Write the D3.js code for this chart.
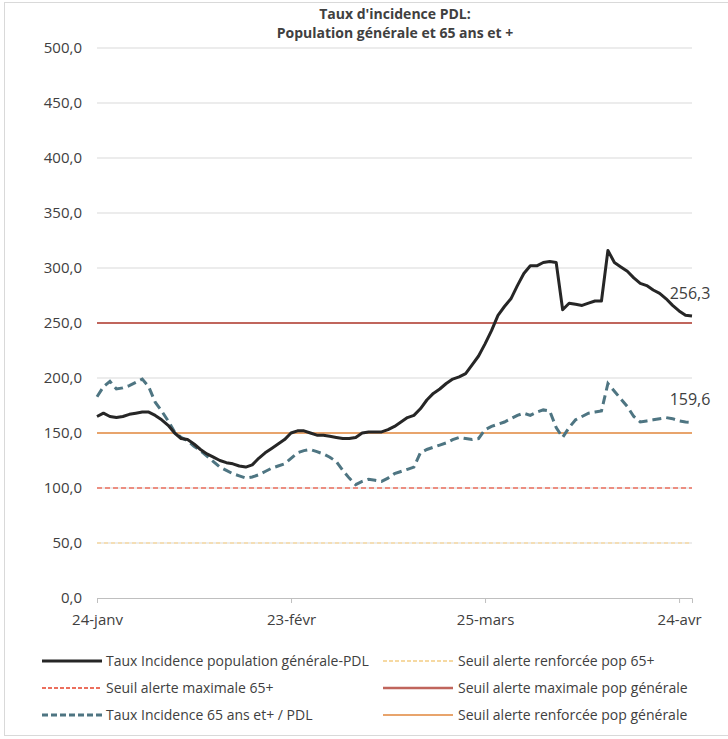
<!DOCTYPE html>
<html>
<head>
<meta charset="utf-8">
<script src="https://cdn.jsdelivr.net/npm/d3@7"></script>
<style>
  body { margin: 0; background: #fff; }
  text { font-family: "Open Sans", "Noto Sans", sans-serif; fill: #404040; }
</style>
</head>
<body>
<div id="chart"></div>
<script>
// daily values, starting 24 janvier 2021
var startDate = new Date(2021, 0, 24);

var popGenerale = [165, 168, 165, 164, 165, 167, 168, 169, 169, 166,
  162, 157, 150, 145, 144, 140, 135, 131, 128, 125,
  123, 122, 120, 119, 121, 127, 132, 136, 140, 144,
  150, 152, 152, 150, 148, 148, 147, 146, 145, 145,
  146, 150, 151, 151, 151, 153, 156, 160, 164, 166,
  172, 180, 186, 190, 195, 199, 201, 204, 212, 220,
  231, 243, 257, 265, 272, 284, 295, 302, 302, 305,
  306, 305, 262, 268, 267, 266, 268, 270, 270, 316,
  305, 301, 297, 291, 286, 284, 280, 277, 272, 266,
  261, 257, 256.3];

var pop65 = [183, 192, 197, 190, 191, 193, 196, 199, 192, 178,
  170, 161, 151, 146, 143, 138, 134, 129, 124, 119,
  116, 113, 111, 109, 110, 112, 115, 118, 120, 122,
  127, 132, 134, 135, 133, 131, 128, 124, 116, 109,
  103, 106, 108, 107, 106, 109, 113, 115, 117, 119,
  132, 135, 137, 139, 141, 144, 146, 145, 144, 145,
  153, 156, 158, 160, 163, 166, 168, 166, 169, 171,
  170, 155, 146, 155, 162, 165, 168, 169, 170, 195,
  188, 181, 174, 165, 160, 161, 162, 163, 164, 163,
  161, 160, 159.6];

var seuils = [
  {name: "Seuil alerte renforcée pop 65+", value: 50},
  {name: "Seuil alerte maximale 65+", value: 100},
  {name: "Seuil alerte maximale pop générale", value: 250},
  {name: "Seuil alerte renforcée pop générale", value: 150}
];

var yTicks = [0, 50, 100, 150, 200, 250, 300, 350, 400, 450, 500];
var xTickLabels = ["24-janv", "23-févr", "25-mars", "24-avr"];
var xTickDates = [new Date(2021, 0, 24), new Date(2021, 1, 23), new Date(2021, 2, 25), new Date(2021, 3, 24)];

var svgWidth = 728, svgHeight = 739;
var svg = d3.select("#chart").append("svg")
  .attr("width", svgWidth)
  .attr("height", svgHeight);

// light frame of the chart area
svg.append("rect")
  .attr("x", 4.5).attr("y", 2.5)
  .attr("width", 740).attr("height", 733)
  .attr("fill", "none").attr("stroke", "#d9d9d9");

var dates = popGenerale.map((d, i) => d3.timeDay.offset(startDate, i));

var x = d3.scaleTime()
  .domain([startDate, dates[dates.length - 1]])
  .range([97, 692]);

var y = d3.scaleLinear()
  .domain([0, 500])
  .range([598, 48]);

var fmt = v => d3.format(".1f")(v).replace(".", ",");

// grid
svg.append("g").selectAll("line")
  .data(yTicks.filter(d => d > 0))
  .enter().append("line")
  .attr("x1", 97).attr("x2", 692)
  .attr("y1", d => y(d)).attr("y2", d => y(d))
  .attr("stroke", "#d9d9d9").attr("stroke-width", 1);

// y labels
svg.append("g").selectAll("text")
  .data(yTicks)
  .enter().append("text")
  .attr("x", 82)
  .attr("y", d => y(d) + 5)
  .attr("text-anchor", "end")
  .attr("font-size", "15px")
  .text(d => fmt(d));

// x axis
var xAxis = d3.axisBottom(x)
  .tickValues(xTickDates)
  .tickSize(5)
  .tickFormat((d, i) => xTickLabels[i]);

var xg = svg.append("g")
  .attr("transform", `translate(0, ${y(0)})`)
  .call(xAxis);
xg.select(".domain").attr("stroke", "#bfbfbf");
xg.selectAll(".tick line").attr("stroke", "#bfbfbf");
xg.selectAll(".tick text")
  .attr("font-size", "15px")
  .attr("font-family", "Open Sans, sans-serif")
  .attr("fill", "#404040")
  .attr("dy", "1.25em");

// threshold lines
var seuilStyle = {
  "Seuil alerte renforcée pop 65+": {color: "#f6d9a2", dash: "4,3", width: 1.5},
  "Seuil alerte maximale 65+": {color: "#ec6f5d", dash: "5,3", width: 1.5},
  "Seuil alerte maximale pop générale": {color: "#c0655c", dash: null, width: 2},
  "Seuil alerte renforcée pop générale": {color: "#e8a46c", dash: null, width: 2}
};

svg.append("g").selectAll("line")
  .data(seuils)
  .enter().append("line")
  .attr("x1", x(startDate)).attr("x2", x(dates[dates.length - 1]))
  .attr("y1", d => y(d.value)).attr("y2", d => y(d.value))
  .attr("stroke", d => seuilStyle[d.name].color)
  .attr("stroke-width", d => seuilStyle[d.name].width)
  .attr("stroke-dasharray", d => seuilStyle[d.name].dash);

var line = d3.line()
  .x((d, i) => x(dates[i]))
  .y(d => y(d));

svg.append("path")
  .datum(pop65)
  .attr("d", line)
  .attr("fill", "none")
  .attr("stroke", "#4e7582")
  .attr("stroke-width", 3)
  .attr("stroke-dasharray", "9,5");

svg.append("path")
  .datum(popGenerale)
  .attr("d", line)
  .attr("fill", "none")
  .attr("stroke", "#262626")
  .attr("stroke-width", 3)
  .attr("stroke-linejoin", "round");

// end labels
var last = dates.length - 1;
[popGenerale, pop65].forEach(function(s) {
  svg.append("text")
    .attr("x", x(dates[last]) - 2)
    .attr("y", y(s[last]) - 17)
    .attr("text-anchor", "middle")
    .attr("font-size", "16px")
    .text(fmt(s[last]));
});

// title
var title = svg.append("text")
  .attr("text-anchor", "middle")
  .attr("font-size", "14px")
  .attr("font-weight", "bold")
  .attr("fill", "#404040");
title.append("tspan").attr("x", 395).attr("y", 19).text("Taux d'incidence PDL:");
title.append("tspan").attr("x", 395).attr("y", 38).text("Population générale et 65 ans et +");

// legend
var legendItems = [
  {label: "Taux Incidence population générale-PDL", color: "#262626", dash: null, width: 3, col: 0, row: 0},
  {label: "Seuil alerte maximale 65+", color: "#ec6f5d", dash: "4,2", width: 2, col: 0, row: 1},
  {label: "Taux Incidence 65 ans et+ / PDL", color: "#4e7582", dash: "6,3", width: 3, col: 0, row: 2},
  {label: "Seuil alerte renforcée pop 65+", color: "#f6d9a2", dash: "4,2", width: 2, col: 1, row: 0},
  {label: "Seuil alerte maximale pop générale", color: "#c0655c", dash: null, width: 2.5, col: 1, row: 1},
  {label: "Seuil alerte renforcée pop générale", color: "#e8a46c", dash: null, width: 2, col: 1, row: 2}
];
var colX = [{x1: 42, x2: 102, tx: 106}, {x1: 383, x2: 453, tx: 458}];

var leg = svg.append("g").selectAll("g")
  .data(legendItems)
  .enter().append("g")
  .attr("transform", d => `translate(0, ${661 + d.row * 27})`);

leg.append("line")
  .attr("x1", d => colX[d.col].x1).attr("x2", d => colX[d.col].x2)
  .attr("y1", 0).attr("y2", 0)
  .attr("stroke", d => d.color)
  .attr("stroke-width", d => d.width)
  .attr("stroke-dasharray", d => d.dash);

leg.append("text")
  .attr("x", d => colX[d.col].tx)
  .attr("y", 5)
  .attr("font-size", "14px")
  .text(d => d.label);
</script>
</body>
</html>
